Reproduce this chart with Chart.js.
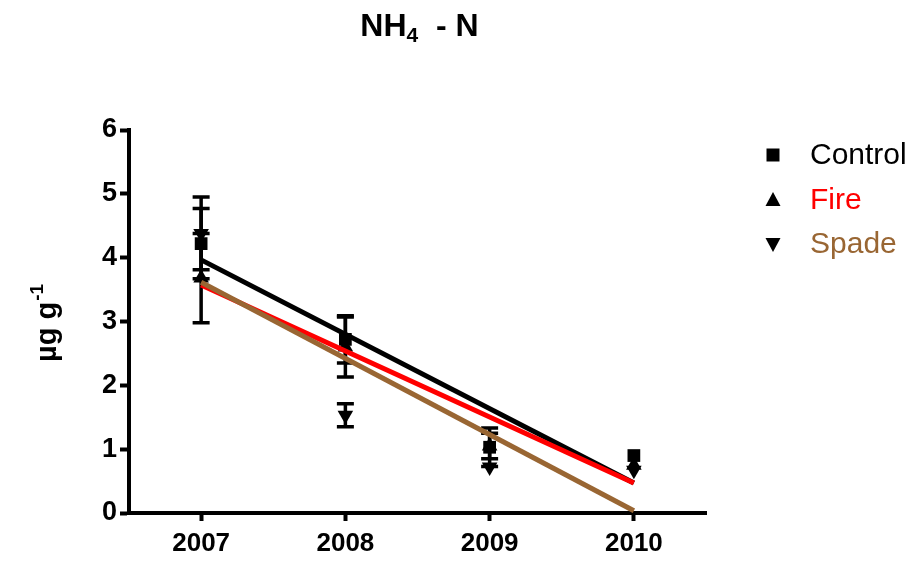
<!DOCTYPE html>
<html>
<head>
<meta charset="utf-8">
<title>NH4 - N</title>
<script src="https://cdn.jsdelivr.net/npm/chart.js@4.4.1/dist/chart.umd.min.js"></script>
<style>
  html, body { margin: 0; padding: 0; background: #fff; }
</style>
</head>
<body>
<canvas id="chart" width="914" height="561"></canvas>
<script>
// sampling years and treatment means (µg g-1) with error bar half-widths
const years = [2007, 2008, 2009, 2010];
const controlMean = [4.22, 2.72, 1.03, 0.90];
const controlErr  = [0.55, 0.37, 0.30, 0];
const fireMean    = [3.68, 2.60, 1.05, 0.75];
const fireErr     = [0.70, 0.47, 0.20, 0];
const spadeMean   = [4.38, 1.53, 0.72, 0.67];
const spadeErr    = [0.57, 0.18, 0, 0];

const seriesNames  = ['Control', 'Fire', 'Spade'];
const seriesColors = ['#000000', '#FF0000', '#996633'];
const yTicks = [0, 1, 2, 3, 4, 5, 6];

const FONT = "'Liberation Sans', Arial, sans-serif";

// least squares line, evaluated at the first and last year
function linearFit(xs, ys) {
  const n = xs.length;
  const mx = xs.reduce((a, b) => a + b, 0) / n;
  const my = ys.reduce((a, b) => a + b, 0) / n;
  let sxy = 0, sxx = 0;
  for (let i = 0; i < n; i++) {
    sxy += (xs[i] - mx) * (ys[i] - my);
    sxx += (xs[i] - mx) * (xs[i] - mx);
  }
  const slope = sxy / sxx;
  const x0 = xs[0], x1 = xs[n - 1];
  return [
    { x: x0, y: my + slope * (x0 - mx) },
    { x: x1, y: my + slope * (x1 - mx) }
  ];
}

function points(ys) {
  return years.map((x, i) => ({ x: x, y: ys[i] }));
}

function markerSet(label, ys, errs, style, rotation) {
  return {
    type: 'scatter',
    label: label,
    data: points(ys),
    errors: errs,
    pointStyle: style,
    rotation: rotation,
    pointRadius: style === 'rect' ? 9 : 9,
    backgroundColor: '#000',
    borderColor: '#000',
    borderWidth: 0,
    order: 10
  };
}

function fitSet(label, ys, color, order) {
  return {
    type: 'line',
    label: label + ' fit',
    data: linearFit(years, ys),
    borderColor: color,
    borderWidth: 5,
    pointRadius: 0,
    fill: false,
    order: order
  };
}

// vertical error bars with caps, under the markers and fit lines
const errorBars = {
  id: 'errorBars',
  beforeDatasetsDraw(chart) {
    const { ctx, scales: { x, y } } = chart;
    ctx.save();
    ctx.strokeStyle = '#000';
    ctx.lineWidth = 3.5;
    chart.data.datasets.forEach(ds => {
      if (!ds.errors) return;
      ds.data.forEach((p, i) => {
        const e = ds.errors[i];
        if (!e) return;
        const px = x.getPixelForValue(p.x);
        const top = y.getPixelForValue(p.y + e);
        const bot = y.getPixelForValue(p.y - e);
        ctx.beginPath();
        ctx.moveTo(px, top); ctx.lineTo(px, bot);
        ctx.moveTo(px - 8.5, top); ctx.lineTo(px + 8.5, top);
        ctx.moveTo(px - 8.5, bot); ctx.lineTo(px + 8.5, bot);
        ctx.stroke();
      });
    });
    ctx.restore();
  }
};

function drawMarker(ctx, shape, cx, cy) {
  ctx.beginPath();
  if (shape === 'rect') {
    ctx.rect(cx - 6.5, cy - 6.5, 13, 13);
  } else if (shape === 'up') {
    ctx.moveTo(cx, cy - 8); ctx.lineTo(cx + 7.5, cy + 6); ctx.lineTo(cx - 7.5, cy + 6);
  } else {
    ctx.moveTo(cx, cy + 8); ctx.lineTo(cx + 7.5, cy - 6); ctx.lineTo(cx - 7.5, cy - 6);
  }
  ctx.closePath();
  ctx.fill();
}

// title with subscript, y axis title with superscript, and the legend
const annotations = {
  id: 'annotations',
  afterDraw(chart) {
    const ctx = chart.ctx;
    const area = chart.chartArea;
    ctx.save();
    ctx.fillStyle = '#000';
    ctx.textBaseline = 'alphabetic';

    // title: NH4 - N
    const big = 'bold 32px ' + FONT, small = 'bold 21px ' + FONT;
    ctx.font = big;
    const wNH = ctx.measureText('NH').width;
    const wRest = ctx.measureText('  - N').width;
    ctx.font = small;
    const w4 = ctx.measureText('4').width;
    const total = wNH + w4 + wRest;
    let tx = (area.left + area.right) / 2 + 2 - total / 2;
    const ty = 36;
    ctx.textAlign = 'left';
    ctx.font = big;
    ctx.fillText('NH', tx, ty);
    tx += wNH;
    ctx.font = small;
    ctx.fillText('4', tx, ty + 6);
    tx += w4;
    ctx.font = big;
    ctx.fillText('  - N', tx, ty);

    // y axis title: µg g-1
    ctx.save();
    ctx.translate(56, (area.top + area.bottom) / 2 + 2);
    ctx.rotate(-Math.PI / 2);
    const lab = 'bold 29px ' + FONT, sup = 'bold 19px ' + FONT;
    ctx.font = lab;
    const wl = ctx.measureText('\u00B5g g').width;
    ctx.font = sup;
    const ws = ctx.measureText('-1').width;
    let lx = -(wl + ws) / 2;
    ctx.font = lab;
    ctx.fillText('\u00B5g g', lx, 0);
    ctx.font = sup;
    ctx.fillText('-1', lx + wl + 1, -13);
    ctx.restore();

    // legend
    const shapes = ['rect', 'up', 'down'];
    const rowY = [155, 200, 244];
    ctx.font = '30px ' + FONT;
    ctx.textBaseline = 'middle';
    seriesNames.forEach((name, i) => {
      ctx.fillStyle = '#000';
      drawMarker(ctx, shapes[i], 773, rowY[i]);
      ctx.fillStyle = seriesColors[i];
      ctx.fillText(name, 810, rowY[i] + 1);
    });
    ctx.restore();
  }
};

const ctx = document.getElementById('chart').getContext('2d');
new Chart(ctx, {
  data: {
    datasets: [
      markerSet('Control', controlMean, controlErr, 'rect', 0),
      markerSet('Fire', fireMean, fireErr, 'triangle', 0),
      markerSet('Spade', spadeMean, spadeErr, 'triangle', 180),
      fitSet('Control', controlMean, seriesColors[0], 3),
      fitSet('Fire', fireMean, seriesColors[1], 2),
      fitSet('Spade', spadeMean, seriesColors[2], 1)
    ]
  },
  options: {
    responsive: false,
    animation: false,
    devicePixelRatio: 1,
    layout: { padding: { top: 130, right: 208, left: 0, bottom: 0 } },
    plugins: {
      legend: { display: false },
      title: { display: false },
      tooltip: { enabled: false }
    },
    scales: {
      x: {
        type: 'linear',
        min: 2006.5,
        max: 2010.5,
        afterBuildTicks(scale) {
          scale.ticks = years.map(v => ({ value: v }));
        },
        afterFit(scale) { scale.height = 48; },
        border: { display: true, color: '#000', width: 4 },
        grid: {
          drawOnChartArea: false,
          drawTicks: true,
          tickLength: 8,
          tickWidth: 4,
          tickColor: '#000',
          color: '#000'
        },
        ticks: {
          color: '#000',
          padding: 7,
          font: { family: FONT, size: 26, weight: 'bold' },
          callback: v => String(v)
        }
      },
      y: {
        type: 'linear',
        min: 0,
        max: 6,
        afterBuildTicks(scale) {
          scale.ticks = yTicks.map(v => ({ value: v }));
        },
        afterFit(scale) { scale.width = 129; },
        border: { display: true, color: '#000', width: 4 },
        grid: {
          drawOnChartArea: false,
          drawTicks: true,
          tickLength: 9,
          tickWidth: 4,
          tickColor: '#000',
          color: '#000'
        },
        ticks: {
          color: '#000',
          padding: 3,
          font: { family: FONT, size: 27, weight: 'bold' },
          callback: v => String(v)
        }
      }
    }
  },
  plugins: [errorBars, annotations]
});
</script>
</body>
</html>
